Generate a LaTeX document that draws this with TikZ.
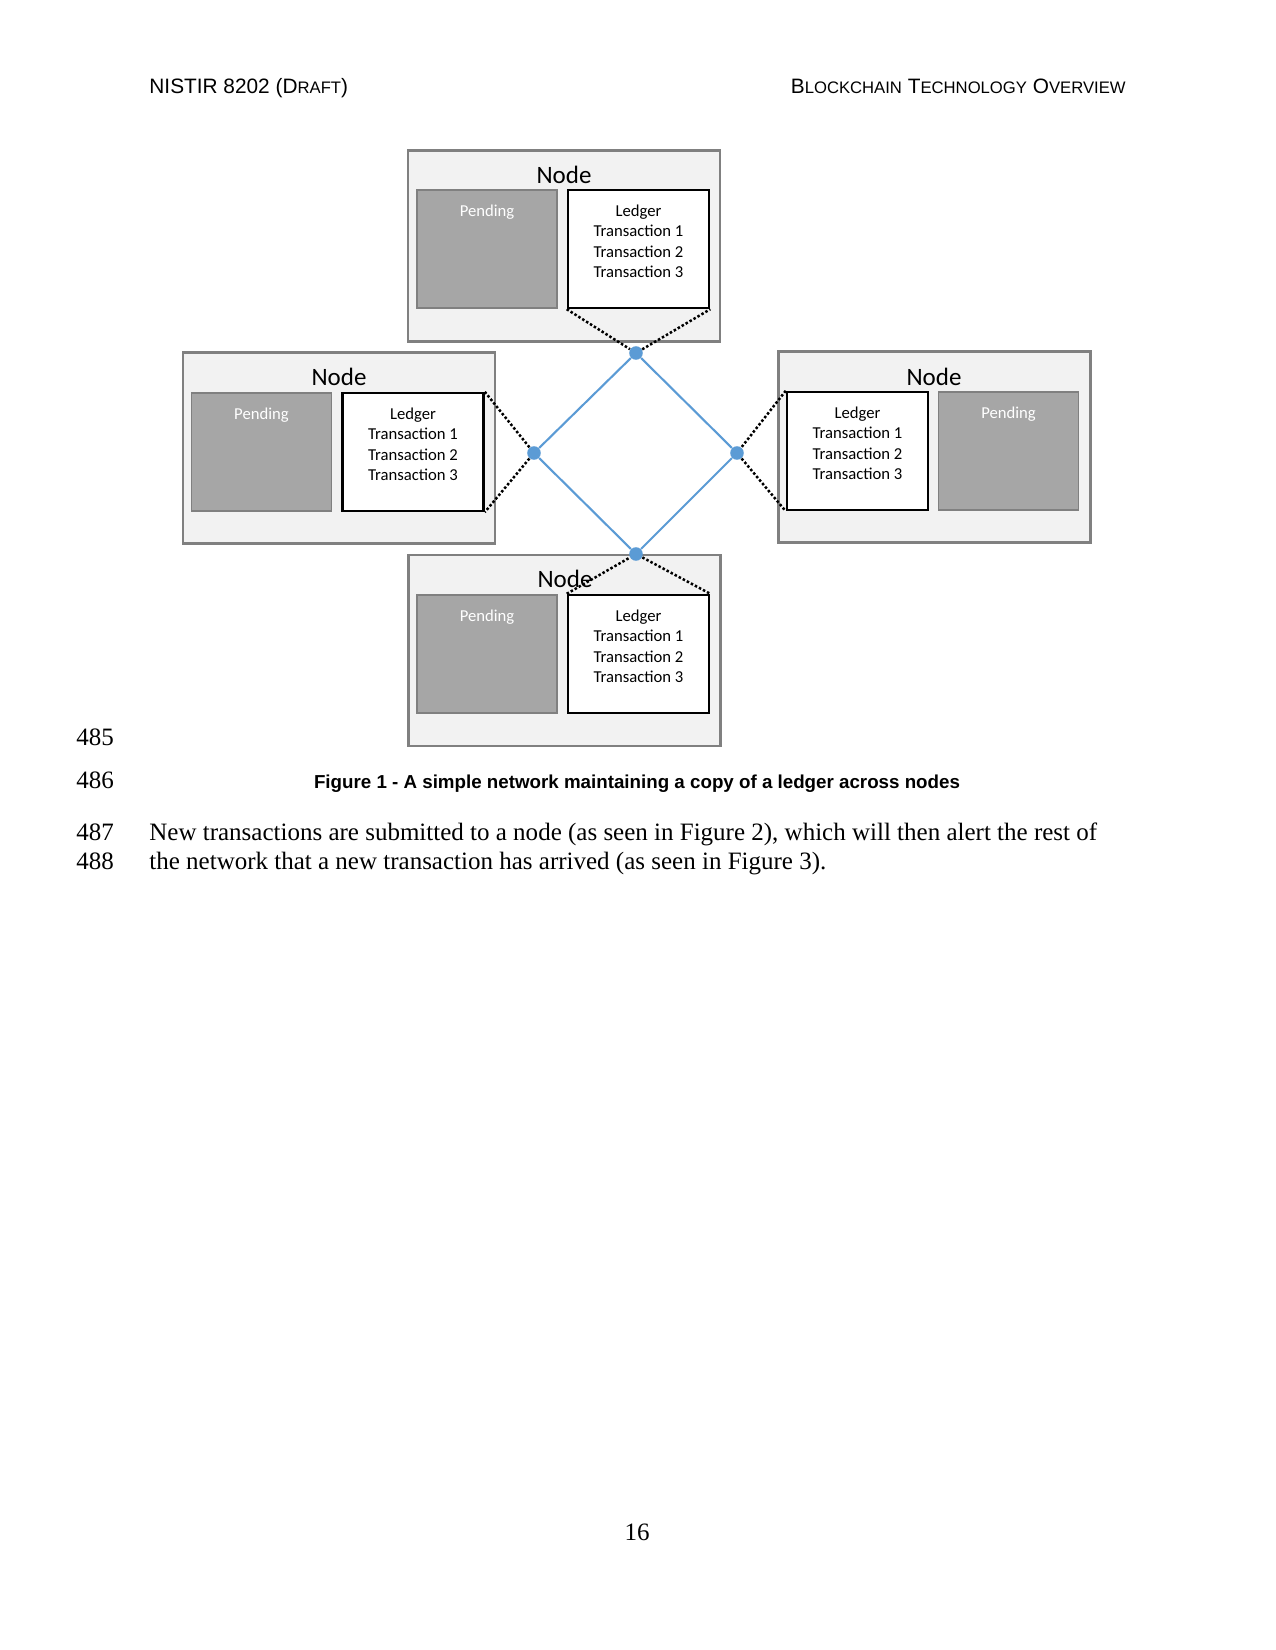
\documentclass[tikz,border=0pt]{standalone}
\usepackage{fontspec}
\setmainfont{Liberation Serif}
\newfontfamily\arialfont{Liberation Sans}
\newfontfamily\calibrifont{Carlito}
\usetikzlibrary{positioning}
\definecolor{boxgray}{HTML}{F2F2F2}
\definecolor{edgegray}{HTML}{808080}
\definecolor{pendgray}{HTML}{A6A6A6}
\definecolor{netblue}{HTML}{5B9BD5}
\newcommand{\fakesc}[2]{#1{\fontsize{8}{9}\selectfont #2}}
\tikzset{
  nodebox/.style={draw=edgegray, fill=boxgray, line width=1.1pt, minimum width=149.8pt, minimum height=91.7pt},
  pendingbox/.style={draw=edgegray, fill=pendgray, line width=0.8pt, minimum width=67.2pt, minimum height=56.6pt},
  ledgerbox/.style={draw=black, fill=white, line width=1.2pt, minimum width=67.7pt, minimum height=56.6pt},
  boxtext/.style={font=\calibrifont\fontsize{8}{9.8}\selectfont, align=center, inner sep=0pt, anchor=north},
  nodetitle/.style={font=\calibrifont\fontsize{12}{14}\selectfont, inner sep=0pt},
  peer/.style={circle, fill=netblue, minimum size=6.5pt, inner sep=0pt},
  link/.style={draw=netblue, line width=1pt},
  tap/.style={densely dotted, line width=1.2pt},
  pagetext/.style={font=\fontsize{12}{14}\selectfont, inner sep=0pt, anchor=base west}
}
\begin{document}
\begin{tikzpicture}[x=0.48pt, y=-0.48pt]
  \useasboundingbox[fill=white] (0,0) rectangle (1275,1650);
  % page head
  \node[inner sep=0pt, anchor=base west, font=\arialfont\fontsize{10}{12}\selectfont] (headl) at (149,94) {NISTIR 8202 (\fakesc{D}{RAFT})};
  \node[inner sep=0pt, anchor=base east, font=\arialfont\fontsize{10}{12}\selectfont] (headr) at (1126,94)
    {\fakesc{B}{LOCKCHAIN} \fakesc{T}{ECHNOLOGY} \fakesc{O}{VERVIEW}};

  % top node
  \node[nodebox] (top) at (564,246) {};
  \node[pendingbox] (tp) at (487,249) {};
  \node[ledgerbox] (tl) at (638.5,249) {};
  \node[nodetitle] (tt) at (564,175) {Node};
  \node[boxtext, text=white] (tpt) at ([yshift=-7.5pt]tp.north) {Pending};
  \node[boxtext] (tlt) at ([yshift=-7.5pt]tl.north) {Ledger\\Transaction 1\\Transaction 2\\Transaction 3};

  % left node
  \node[nodebox] (left) at (339,448) {};
  \node[pendingbox] (lp) at (261.5,452) {};
  \node[ledgerbox] (ll) at (413,452) {};
  \node[nodetitle] (lt) at (339,377) {Node};
  \node[boxtext, text=white] (lpt) at ([yshift=-7.5pt]lp.north) {Pending};
  \node[boxtext] (llt) at ([yshift=-7.5pt]ll.north) {Ledger\\Transaction 1\\Transaction 2\\Transaction 3};

  % right node
  \node[nodebox] (right) at (934.5,447) {};
  \node[ledgerbox] (rl) at (857.5,451) {};
  \node[pendingbox] (rp) at (1008.5,451) {};
  \node[nodetitle] (rt) at (934,377) {Node};
  \node[boxtext] (rlt) at ([yshift=-7.5pt]rl.north) {Ledger\\Transaction 1\\Transaction 2\\Transaction 3};
  \node[boxtext, text=white] (rpt) at ([yshift=-7.5pt]rp.north) {Pending};

  % bottom node
  \node[nodebox] (bottom) at (564.5,650.5) {};
  \node[pendingbox] (bp) at (487,654) {};
  \node[ledgerbox] (bl) at (638.5,654) {};
  \node[nodetitle] (bt) at (565,579) {Node};
  \node[boxtext, text=white] (bpt) at ([yshift=-7.5pt]bp.north) {Pending};
  \node[boxtext] (blt) at ([yshift=-7.5pt]bl.north) {Ledger\\Transaction 1\\Transaction 2\\Transaction 3};

  % network
  \node[peer] (tdot) at (636,353) {};
  \node[peer] (ldot) at (534,453) {};
  \node[peer] (rdot) at (737,453) {};
  \node[peer] (bdot) at (636,554) {};
  \draw[link] (tdot) -- (ldot) -- (bdot) -- (rdot) -- (tdot);
  \draw[tap] (tl.south west) -- (tdot) -- (tl.south east);
  \draw[tap] (ll.north east) -- (ldot) -- (ll.south east);
  \draw[tap] (rl.north west) -- (rdot) -- (rl.south west);
  \draw[tap] (bl.north west) -- (bdot) -- (bl.north east);

  % caption and text
  \node[pagetext] (n485) at (76,745) {485};
  \node[pagetext] (n486) at (76,788) {486};
  \node[inner sep=0pt, anchor=base, font=\arialfont\bfseries\fontsize{9}{11}\selectfont] (cap) at (637,788)
    {Figure 1 - A simple network maintaining a copy of a ledger across nodes};
  \node[pagetext] (n487) at (76,840) {487};
  \node[pagetext] (n488) at (76,869) {488};
  \node[pagetext] (l487) at (149,840) {New transactions are submitted to a node (as seen in Figure 2), which will then alert the rest of};
  \node[pagetext] (l488) at (149,869) {the network that a new transaction has arrived (as seen in Figure 3).};
  \node[inner sep=0pt, anchor=base, font=\fontsize{12}{14}\selectfont] (pnum) at (637,1540) {16};
\end{tikzpicture}
\end{document}
